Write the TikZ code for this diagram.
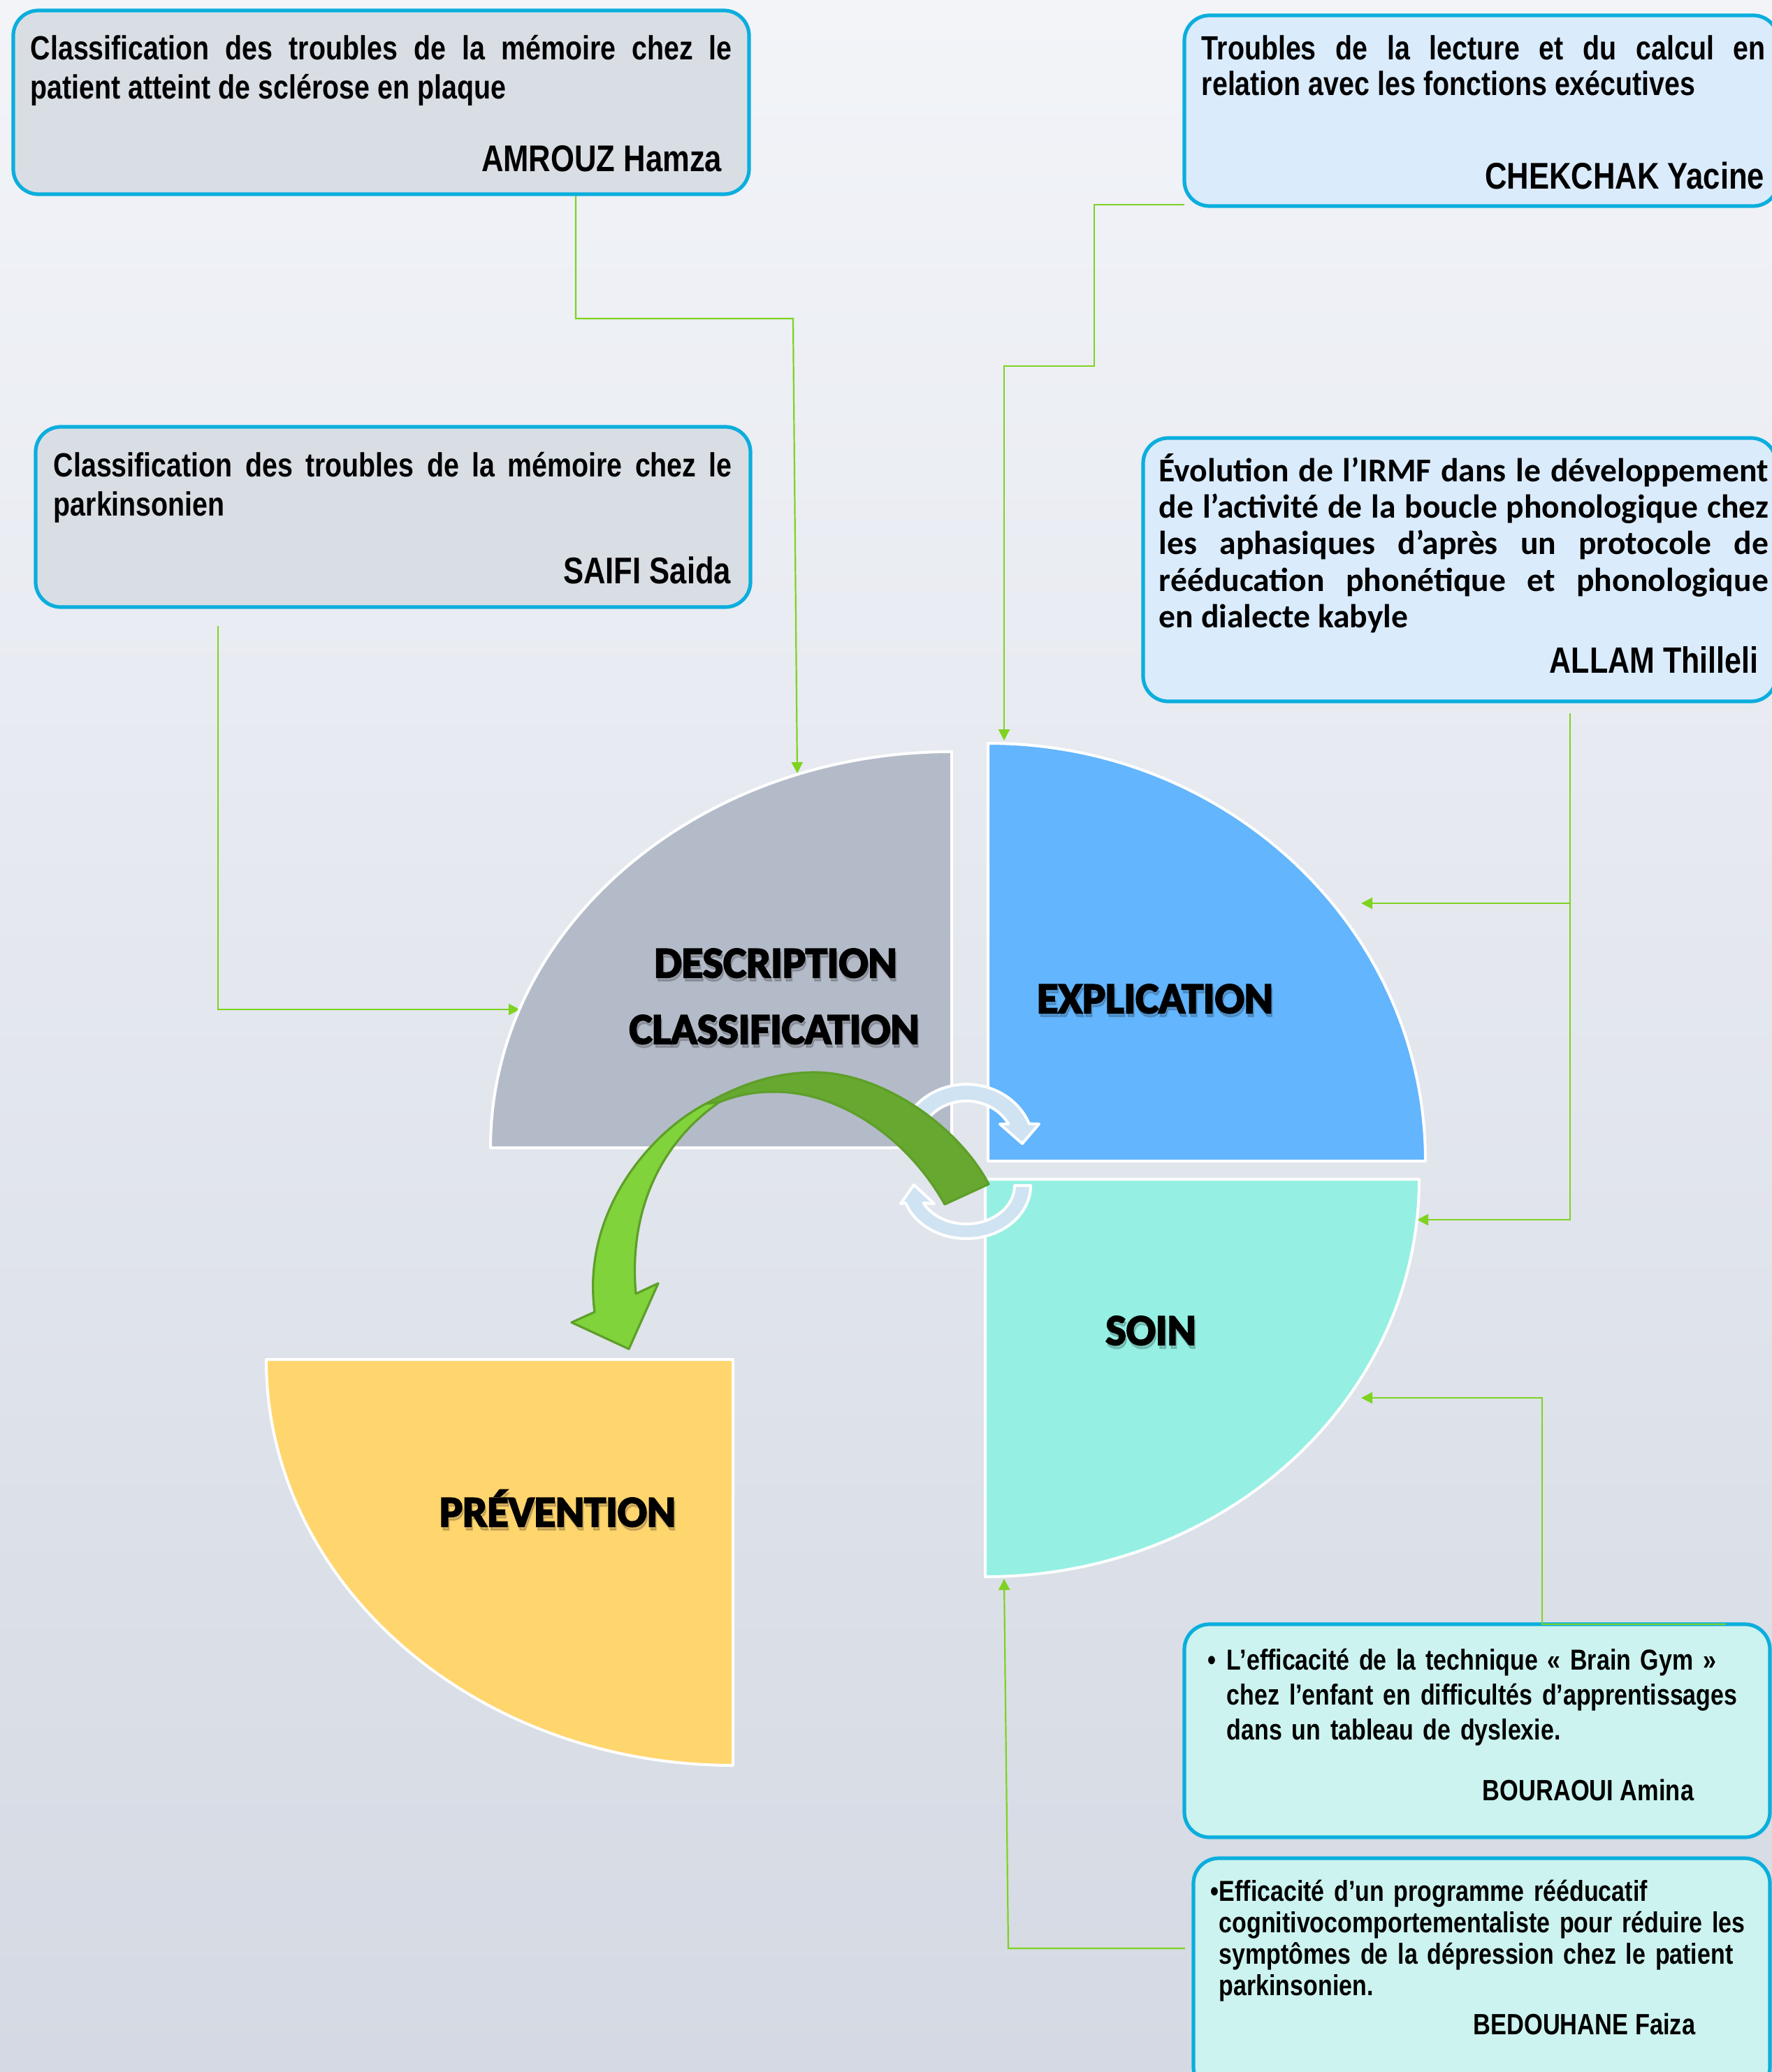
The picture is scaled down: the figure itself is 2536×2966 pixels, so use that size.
\documentclass[tikz,border=0pt]{standalone}
\usepackage{fontspec}
\setmainfont{Liberation Sans}
\newfontfamily\narrowbf{Liberation Sans Bold}[FakeStretch=0.82]
\newfontfamily\calibb{Carlito Bold}
\newfontfamily\heavy{Carlito Bold}[FakeBold=3.5]
\usetikzlibrary{arrows.meta,fit}
\hyphenpenalty=10000
\exhyphenpenalty=10000
\definecolor{bgtop}{HTML}{F2F4F8}
\definecolor{bgbot}{HTML}{D4D9E3}
\definecolor{qgray}{HTML}{B4BBC8}
\definecolor{qblue}{HTML}{63B5FD}
\definecolor{qteal}{HTML}{95F0E3}
\definecolor{qyellow}{HTML}{FFD56E}
\definecolor{boxgray}{HTML}{D9DEE5}
\definecolor{boxblue}{HTML}{DAEBFC}
\definecolor{boxteal}{HTML}{CCF3EF}
\definecolor{boxedge}{HTML}{0BAEDD}
\definecolor{linegreen}{HTML}{7ED321}
\definecolor{glight}{HTML}{80D33B}
\definecolor{gdark}{HTML}{67A830}
\definecolor{gedge}{HTML}{5E9F2A}
\definecolor{circfill}{HTML}{CFE3F2}
\tikzset{
  box/.style={draw=boxedge, line width=1.3pt, rounded corners=9pt, inner sep=0pt},
  quad/.style={draw=white, line width=1pt, line join=round},
  link/.style={draw=linegreen, line width=0.55pt},
  conn/.style={link, -{Triangle[length=4pt,width=4pt]}},
  body/.style={inner sep=0pt, anchor=base west, align=justify, font=\narrowbf\fontsize{12}{14.2}\selectfont},
  plainbody/.style={inner sep=0pt, anchor=base west, align=left, text width=205pt, font=\narrowbf\fontsize{10.35}{12.6}\selectfont},
  bullet/.style={inner sep=0pt, anchor=base west, font=\narrowbf\fontsize{10.35}{12.6}\selectfont},
  author/.style={inner sep=0pt, anchor=base east, font=\narrowbf\fontsize{13.3}{15}\selectfont},
  smallauthor/.style={inner sep=0pt, anchor=base east, font=\narrowbf\fontsize{10.5}{12}\selectfont},
  lab/.style={inner sep=0pt, anchor=base, font=\heavy\fontsize{15.6}{18}\selectfont},
  labsh/.style={lab, text=black, opacity=0.16},
  circ/.style={fill=circfill, draw=white, line width=1pt, line join=round},
  gband/.style={draw=gedge, line width=0.8pt, line join=round},
}
\begin{document}
\begin{tikzpicture}[x=0.25pt,y=-0.25pt]
\useasboundingbox (0,0) rectangle (2536,2966);
\shade[top color=bgtop,bottom color=bgbot] (0,0) rectangle (2536,2966);

% ---------- boxes ----------
\node[box, fill=boxgray, fit={(19,15) (1072,278)}] (b1) {};
\node[box, fill=boxblue, fit={(1695,22) (2545,295)}] (b2) {};
\node[box, fill=boxgray, fit={(51,611) (1074,869)}] (b3) {};
\node[box, fill=boxblue, fit={(1636,627) (2542,1004)}] (b4) {};
\node[box, fill=boxteal, fit={(1695,2325) (2533,2630)}] (b5) {};
\node[box, fill=boxteal, fit={(1708,2660) (2533,2995)}] (b6) {};

% box texts
\node[body, text width=251pt] (x1) at (43,85) {Classification des troubles de la mémoire chez le\linebreak patient atteint de sclérose en plaque};
\node[author] (a1) at (1034,245) {AMROUZ Hamza};

\node[body, text width=201.75pt, font=\narrowbf\fontsize{12}{13}\selectfont] (x2) at (1719,85) {Troubles de la lecture et du calcul en\linebreak relation avec les fonctions exécutives};
\node[author] (a2) at (2526,270) {CHEKCHAK Yacine};

\node[body, text width=242.75pt, font=\narrowbf\fontsize{12}{14}\selectfont] (x3) at (76,682) {Classification des troubles de la mémoire chez le\linebreak parkinsonien};
\node[author] (a3) at (1047,835) {SAIFI Saida};

\node[body, text width=218pt, font=\calibb\fontsize{11.9}{13.1}\selectfont] (x4) at (1658,689) {Évolution de l’IRMF dans le développement\linebreak de l’activité de la boucle phonologique chez\linebreak les aphasiques d’après un protocole de\linebreak rééducation phonétique et phonologique\linebreak en dialecte kabyle};
\node[author, font=\narrowbf\fontsize{13.1}{15}\selectfont] (a4) at (2517,963) {ALLAM Thilleli};

\node[bullet] (d5) at (1728,2390) {•};
\node[plainbody] (x5) at (1755,2390) {L’efficacité de la technique «~Brain Gym~»\\chez l’enfant en difficultés d’apprentissages\\dans un tableau de dyslexie.};
\node[smallauthor] (a5) at (2425,2577) {BOURAOUI Amina};

\node[bullet] (d6) at (1732,2721) {•};
\node[plainbody, font=\narrowbf\fontsize{10.35}{11.25}\selectfont] (x6) at (1744,2721) {Efficacité d’un programme rééducatif\\cognitivocomportementaliste pour réduire les\\symptômes de la dépression chez le patient\\parkinsonien.};
\node[smallauthor] (a6) at (2427,2912) {BEDOUHANE Faiza};

% ---------- connector points ----------
\coordinate (p1a) at (824,456);
\coordinate (p1b) at (1135,456);
\coordinate (t1) at (1141,1107);
\coordinate (s2) at (312,896);
\coordinate (p2) at (312,1445);
\coordinate (t2) at (744,1445);
\coordinate (s3) at (1695,293);
\coordinate (p3a) at (1566,293);
\coordinate (p3b) at (1566,524);
\coordinate (p3c) at (1437,524);
\coordinate (t3) at (1437,1060);
\coordinate (s4) at (2247,1021);
\coordinate (p4a) at (2247,1293);
\coordinate (t4a) at (1948,1293);
\coordinate (p4b) at (2247,1746);
\coordinate (t4b) at (2028,1746);
\coordinate (s5) at (2470,2325);
\coordinate (p5a) at (2207,2325);
\coordinate (p5b) at (2207,2001);
\coordinate (t5) at (1948,2001);
\coordinate (s6) at (1696,2789);
\coordinate (p6) at (1443,2789);
\coordinate (t6) at (1437,2260);

\draw[conn] (b1.south -| p1a) -- (p1a) -- (p1b) -- (t1);
\draw[conn] (s2) -- (p2) -- (t2);
\draw[conn] (s3) -- (p3a) -- (p3b) -- (p3c) -- (t3);
\draw[conn] (s4) -- (p4b) -- (t4b);
\draw[conn] (p4a) -- (t4a);
\draw[conn] (s5) -- (p5a) -- (p5b) -- (t5);
\draw[conn] (s6) -- (p6) -- (t6);

% ---------- quadrants ----------
\filldraw[quad, fill=qgray] (1362,1643) -- (702,1643) arc[start angle=180, end angle=270, x radius=660, y radius=567] -- cycle;
\filldraw[quad, fill=qblue] (1414,1662) -- (1414,1064) arc[start angle=270, end angle=360, x radius=626, y radius=598] -- cycle;
\filldraw[quad, fill=qteal] (1410,1688) -- (2031,1688) arc[start angle=0, end angle=90, x radius=621, y radius=569] -- cycle;
\filldraw[quad, fill=qyellow] (1049,1946) -- (1049,2527) arc[start angle=90, end angle=180, x radius=668, y radius=581] -- cycle;

% ---------- labels ----------
\node[labsh] at (1112,1404) {DESCRIPTION};
\node[lab] (lDesc) at (1110,1399) {DESCRIPTION};
\node[labsh] at (1110,1499) {CLASSIFICATION};
\node[lab] (lClass) at (1108,1494) {CLASSIFICATION};
\node[labsh] at (1655,1455) {EXPLICATION};
\node[lab] (lExpl) at (1653,1450) {EXPLICATION};
\node[labsh] at (1649,1930) {SOIN};
\node[lab] (lSoin) at (1647,1925) {SOIN};
\node[labsh] at (800,2190) {PRÉVENTION};
\node[lab] (lPrev) at (798,2185) {PRÉVENTION};

% ---------- circular arrows ----------
\filldraw[circ] (1293,1610) arc[start angle=200, end angle=339, x radius=96, y radius=88]
  -- (1487,1609) -- (1463,1637) -- (1431,1609) -- (1443.35,1608.97)
  arc[start angle=331, end angle=200, x radius=69, y radius=64] -- cycle;
\filldraw[circ] (1475,1697) arc[start angle=0, end angle=160.8, x radius=92, y radius=76]
  -- (1289,1723) -- (1308,1696) -- (1337,1723) -- (1321.5,1722)
  arc[start angle=153, end angle=0, x radius=69, y radius=55] -- cycle;

% ---------- big green arrow ----------
\filldraw[gband, fill=gdark] (1415,1695) .. controls (1370,1610) and (1260,1535) .. (1166,1535)
  .. controls (1100,1535) and (1050,1558) .. (1010,1580)
  -- (1029,1578) .. controls (1048,1570) and (1075,1563) .. (1103,1563)
  .. controls (1200,1560) and (1300,1630) .. (1352,1724) -- cycle;
\filldraw[gband, fill=glight] (1010,1580) .. controls (930,1622) and (832,1735) .. (851,1878)
  -- (818,1893) -- (900,1931) -- (942,1837) -- (910,1852)
  .. controls (900,1740) and (940,1640) .. (1029,1578) -- cycle;
\end{tikzpicture}
\end{document}
